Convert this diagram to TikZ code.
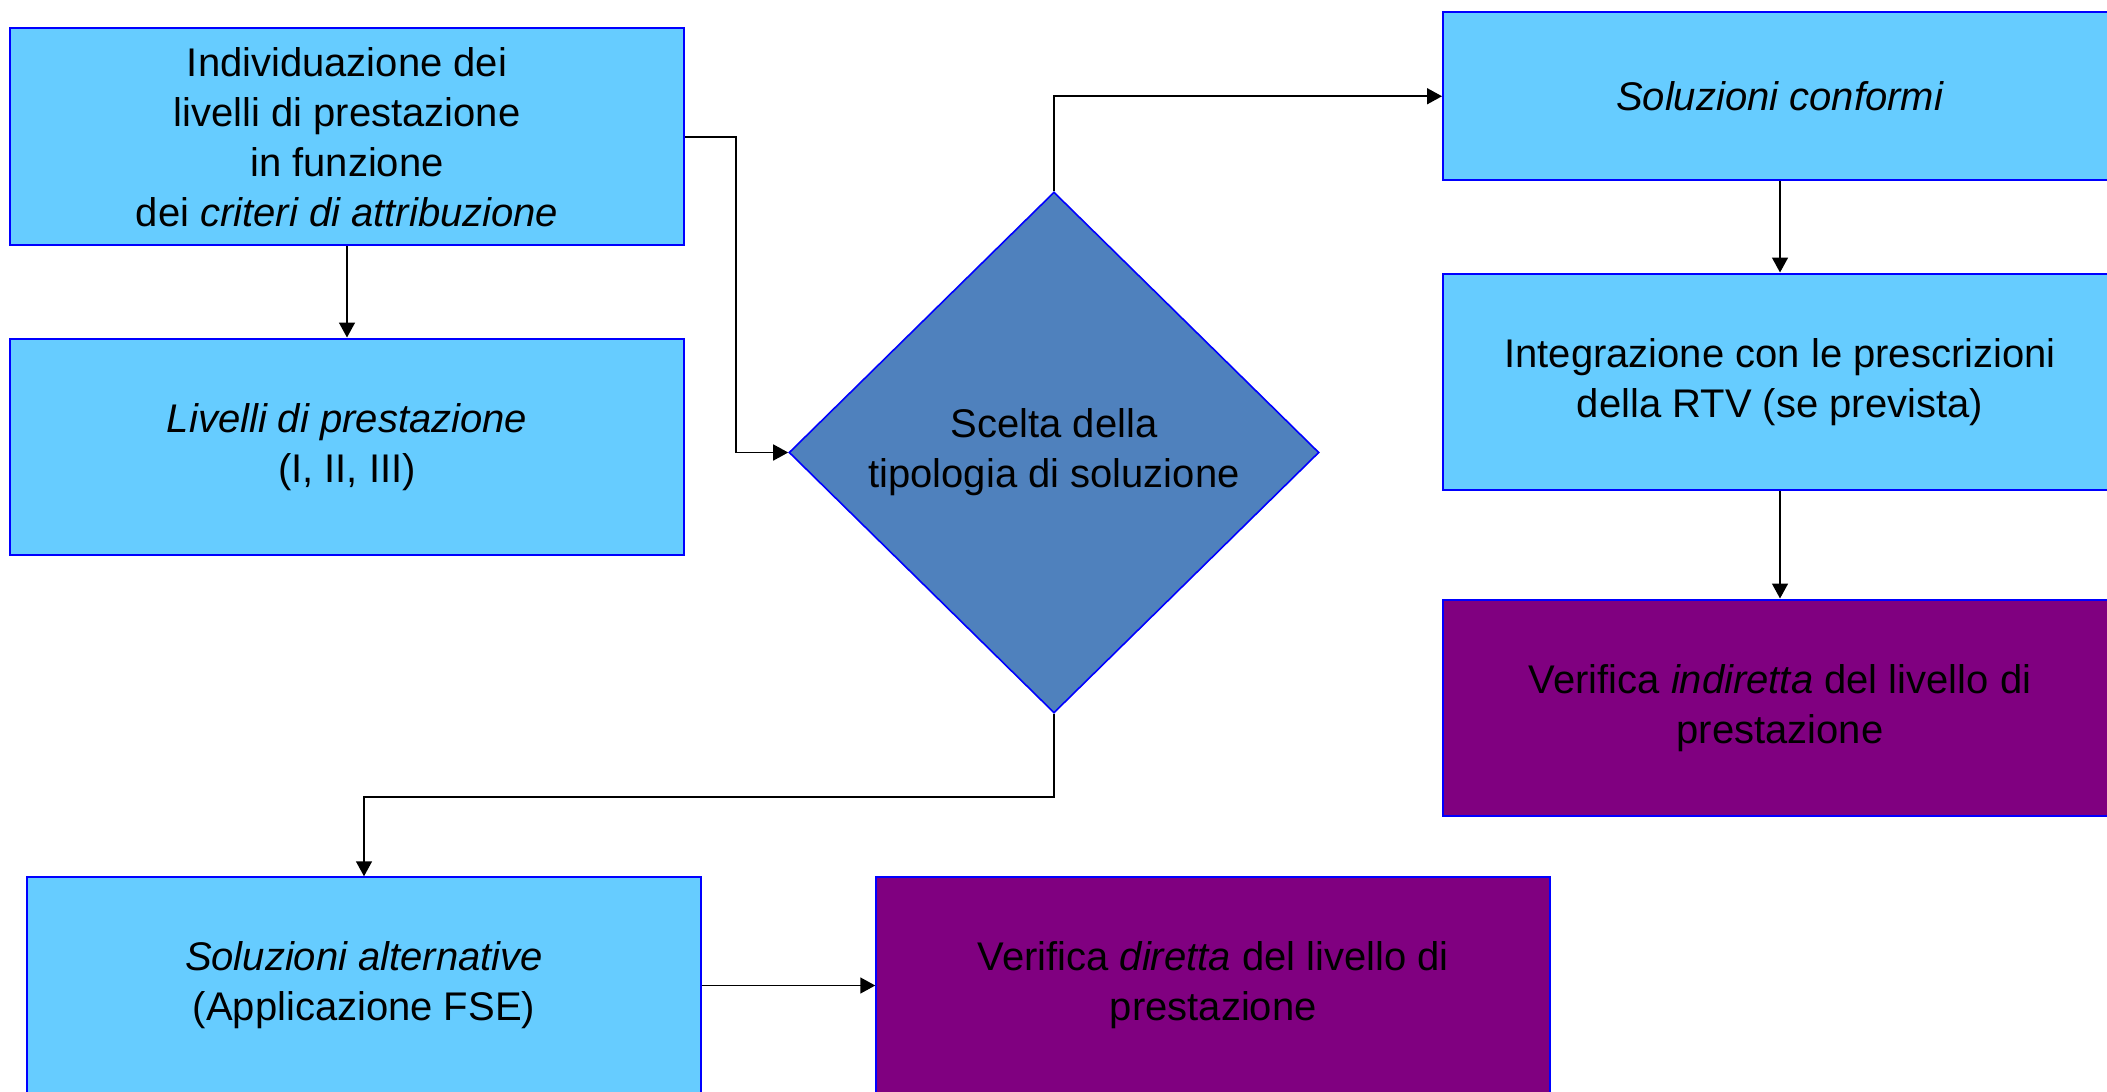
\documentclass[tikz,border=0pt]{standalone}
\usepackage{fontspec}
\setmainfont{Liberation Sans}
\usetikzlibrary{shapes.geometric,arrows.meta}
\definecolor{lightbox}{HTML}{66CCFF}
\definecolor{bordblue}{HTML}{0000FF}
\definecolor{diafill}{HTML}{4F81BD}
\definecolor{purplebox}{HTML}{800080}
\tikzset{
  box/.style={draw=bordblue, line width=1pt, fill=lightbox, rectangle, minimum width=337pt, minimum height=108.25pt, align=center, inner sep=0pt, font=\fontsize{20}{25}\selectfont},
  vbox/.style={box, fill=purplebox},
  choice/.style={draw=bordblue, line width=0.8pt, fill=diafill, diamond, minimum width=265pt, minimum height=260.5pt, inner sep=0pt, align=center, font=\fontsize{20}{25}\selectfont},
  arr/.style={draw=black, line width=0.8pt, -{Triangle[length=7.5pt,width=8pt]}}
}
\begin{document}
\begin{tikzpicture}[x=0.5pt,y=-0.5pt]
\useasboundingbox (0,0) rectangle (2107,1091);
\clip (0,0) rectangle (2107,1091);
\fill[white] (0,0) rectangle (2107,1091);
\node[box] (b1) at (347,136.75) {Individuazione dei\\livelli di prestazione\\in funzione\\dei \textit{criteri di attribuzione}};
\node[box] (liv) at (347,446.75) {\textit{Livelli di prestazione}\\(I, II, III)};
\node[choice] (d) at (1054,452.5) {Scelta della\\tipologia di soluzione};
\node[box, minimum height=83.75pt] (conf) at (1780,96.25) {\textit{Soluzioni conformi}};
\node[box] (integ) at (1780,381.75) {Integrazione con le prescrizioni\\della RTV (se prevista)};
\node[vbox] (ind) at (1780,707.75) {Verifica \textit{indiretta} del livello di\\prestazione};
\node[box] (alt) at (364,985.5) {\textit{Soluzioni alternative}\\(Applicazione FSE)};
\node[vbox] (dir) at (1213.25,985.5) {Verifica \textit{diretta} del livello di\\prestazione};
\draw[arr] (b1.south) -- (liv.north);
\draw[arr] (b1.east) -- ++(51,0) |- (d.west);
\draw[arr] (d.north) |- (conf.west);
\draw[arr] (conf.south) -- (integ.north);
\draw[arr] (integ.south) -- (ind.north);
\draw[arr] (d.south) -- ++(0,83) -| (alt.north);
\draw[arr] (alt.east) -- (dir.west);
\end{tikzpicture}
\end{document}
